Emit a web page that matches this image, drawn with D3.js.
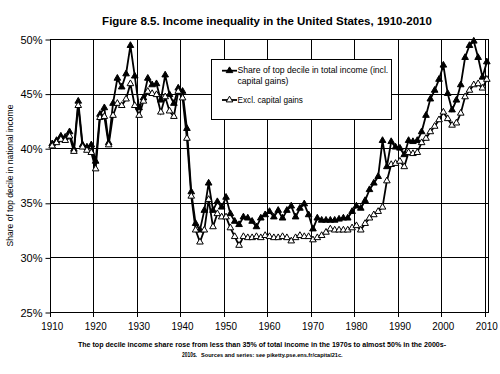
<!DOCTYPE html>
<html>
<head>
<meta charset="utf-8">
<script src="https://cdn.jsdelivr.net/npm/d3@7"></script>
<style>
  body { margin: 0; background: #fff; }
  svg { display: block; font-family: "Liberation Sans", Arial, sans-serif; }
</style>
</head>
<body>
<div id="chart"></div>
<script>
// Top decile income share, United States (% of national income)
var years = d3.range(1910, 2011);

var inclGains = [
  40.4, 40.7, 41.1, 41.0, 41.5, 39.9, 44.3, 40.3, 40.1, 40.3,   // 1910s
  38.8, 43.1, 43.7, 40.5, 44.1, 46.4, 45.6, 46.8, 49.4, 46.6,   // 1920s
  43.7, 44.6, 46.4, 45.8, 45.9, 44.4, 46.7, 44.9, 44.1, 45.5,   // 1930s
  45.2, 41.8, 36.0, 33.1, 32.5, 34.3, 36.8, 34.3, 35.1, 34.6,   // 1940s
  35.5, 34.0, 33.3, 33.0, 33.7, 33.6, 33.3, 32.8, 33.6, 33.9,   // 1950s
  34.2, 33.7, 34.3, 33.6, 34.3, 34.7, 33.7, 34.5, 34.9, 33.9,   // 1960s
  32.6, 33.6, 33.4, 33.4, 33.4, 33.4, 33.5, 33.6, 33.6, 34.2,   // 1970s
  34.7, 34.5, 35.2, 36.2, 36.8, 37.4, 40.7, 38.3, 40.6, 40.1,   // 1980s
  40.0, 39.4, 40.7, 40.6, 40.7, 41.5, 43.0, 44.5, 45.3, 46.3,   // 1990s
  47.6, 45.0, 43.5, 44.4, 45.8, 48.3, 49.4, 49.8, 48.3, 46.5,   // 2000s
  47.9                                                          // 2010
];

var exclGains = [
  40.2, 40.5, 40.8, 40.7, 41.1, 39.7, 43.9, 40.1, 39.8, 39.6,
  38.1, 42.8, 42.9, 40.3, 43.0, 44.1, 43.9, 44.5, 45.9, 43.9,
  43.0, 44.3, 45.2, 45.0, 44.9, 43.3, 44.7, 43.4, 42.9, 45.2,
  44.6, 40.9, 35.6, 32.5, 31.4, 32.5, 35.3, 32.8, 34.0, 33.7,
  33.7, 32.7, 31.9, 31.1, 31.9, 31.8, 31.8, 31.9, 31.8, 32.0,
  31.9, 31.8, 31.8, 31.9, 31.8, 31.5, 31.8, 32.0, 31.9, 31.9,
  31.6, 31.8, 32.0, 32.3, 32.6, 32.5, 32.5, 32.5, 32.5, 32.7,
  32.9, 32.5, 33.1, 33.6, 33.9, 34.2, 34.6, 37.0, 38.5, 38.6,
  38.8, 38.3, 39.6, 39.5, 39.6, 40.5, 40.9, 41.5, 42.0, 42.6,
  43.3, 42.7, 42.1, 42.3, 43.2, 44.7, 45.3, 45.8, 45.9, 45.5,
  46.3
];

var yTicks = [25, 30, 35, 40, 45, 50];
var xTicks = [1910, 1920, 1930, 1940, 1950, 1960, 1970, 1980, 1990, 2000, 2010];

var width = 500;
var height = 374;
// plot frame (note: "top" is a reserved window property, hence the prefixes)
var plotL = 50, plotR = 489, plotT = 39, plotB = 312;

var svg = d3.select("#chart").append("svg")
    .attr("width", width)
    .attr("height", height);

var x = d3.scaleBand().domain(years).range([plotL, plotR]).padding(0);
var y = d3.scaleLinear().domain([25, 50]).range([plotB, plotT]);
var half = x.bandwidth() / 2;

// squeeze a text horizontally to a target width (the source uses a narrow font)
function squeezed(str, x0, y0, size, bold, w, anchor) {
    var t = svg.append("text")
        .attr("font-size", size)
        .attr("font-weight", bold ? "bold" : "normal")
        .attr("text-anchor", anchor || "start")
        .text(str);
    var k = Math.min(1, w / t.node().getComputedTextLength());
    t.attr("transform", "translate(" + x0 + "," + y0 + ") scale(" + k + ",1)");
    return t;
}

// title
squeezed("Figure 8.5. Income inequality in the United States, 1910-2010", 267, 24.5, 11.5, true, 340, "middle");

// grid
var grid = svg.append("g").attr("stroke", "#000").attr("stroke-width", 1);
grid.selectAll(".hg").data(yTicks).enter().append("line")
    .attr("x1", plotL).attr("x2", plotR)
    .attr("y1", function (d) { return Math.round(y(d)) + 0.5; })
    .attr("y2", function (d) { return Math.round(y(d)) + 0.5; });
grid.selectAll(".vg").data(xTicks).enter().append("line")
    .attr("x1", function (d) { return Math.round(x(d)) + 0.5; })
    .attr("x2", function (d) { return Math.round(x(d)) + 0.5; })
    .attr("y1", plotT).attr("y2", plotB);
grid.append("rect")
    .attr("x", plotL + 0.5).attr("y", plotT + 0.5)
    .attr("width", plotR - plotL - 1).attr("height", plotB - plotT)
    .attr("fill", "none");

// y axis
var yAxis = svg.append("g")
    .attr("transform", "translate(" + (plotL + 0.5) + ",0.5)")
    .call(d3.axisLeft(y).tickValues(yTicks).tickSize(5).tickPadding(3)
        .tickFormat(function (d) { return d + "%"; }));
yAxis.select(".domain").remove();
yAxis.selectAll("text").attr("font-size", 11).attr("fill", "#000")
    .attr("font-family", "Liberation Sans, Arial, sans-serif");
yAxis.selectAll("line").attr("stroke", "#000");

// x axis labels (centred on the category) and ticks at decade boundaries
var xAxis = svg.append("g")
    .attr("transform", "translate(0," + (plotB + 0.5) + ")")
    .call(d3.axisBottom(x).tickValues(xTicks).tickSize(0).tickPadding(10));
xAxis.select(".domain").remove();
xAxis.selectAll("text").attr("font-size", 11).attr("fill", "#000")
    .attr("font-family", "Liberation Sans, Arial, sans-serif")
    .attr("textLength", 22).attr("lengthAdjust", "spacingAndGlyphs");
svg.append("g").attr("stroke", "#000").selectAll("line").data(xTicks).enter().append("line")
    .attr("x1", function (d) { return Math.round(x(d)) + 0.5; })
    .attr("x2", function (d) { return Math.round(x(d)) + 0.5; })
    .attr("y1", plotB).attr("y2", plotB + 5);

// y axis title
svg.append("text")
    .attr("transform", "translate(13," + ((plotT + plotB) / 2) + ") rotate(-90)")
    .attr("text-anchor", "middle")
    .attr("font-size", 8.5)
    .text("Share of top decile in national income");

// series
var line = d3.line()
    .x(function (d, i) { return x(years[i]) + half; })
    .y(function (d) { return y(d); });

var tri = d3.symbol().type(d3.symbolTriangle).size(19);

function drawSeries(values, fill) {
    var g = svg.append("g");
    g.append("path")
        .datum(values)
        .attr("d", line)
        .attr("fill", "none")
        .attr("stroke", "#000")
        .attr("stroke-width", 1.8);
    g.selectAll("path.m").data(values).enter().append("path")
        .attr("class", "m")
        .attr("d", tri)
        .attr("transform", function (d, i) {
            return "translate(" + (x(years[i]) + half) + "," + y(d) + ")";
        })
        .attr("fill", fill)
        .attr("stroke", "#000")
        .attr("stroke-width", 1);
}

drawSeries(inclGains, "#000");
drawSeries(exclGains, "#fff");

// legend
svg.append("rect")
    .attr("x", 211.5).attr("y", 59.5).attr("width", 180).attr("height", 60)
    .attr("fill", "#fff").attr("stroke", "#000").attr("stroke-width", 1);

var legItems = [
    { fill: "#000", ly: 70.7, lines: [["Share of top decile in total income (incl.", 72.7, 151], ["capital gains)", 84.3, 51]] },
    { fill: "#fff", ly: 100, lines: [["Excl. capital gains", 102.7, 65.5]] }
];
legItems.forEach(function (it) {
    svg.append("line")
        .attr("x1", 222).attr("x2", 237)
        .attr("y1", it.ly).attr("y2", it.ly)
        .attr("stroke", "#000").attr("stroke-width", 1.8);
    svg.append("path")
        .attr("d", tri)
        .attr("transform", "translate(229.5," + it.ly + ")")
        .attr("fill", it.fill).attr("stroke", "#000");
    it.lines.forEach(function (t) {
        squeezed(t[0], 237.5, t[1], 9, false, t[2]);
    });
});

// caption
squeezed("The top decile income share rose from less than 35% of total income in the 1970s to almost 50% in the 2000s-",
    262, 347, 8, true, 369, "middle");
squeezed("2010s.", 182, 357, 8, true, 15);
squeezed("Sources and series: see piketty.pse.ens.fr/capital21c.", 201, 357, 6, true, 142);
</script>
</body>
</html>
